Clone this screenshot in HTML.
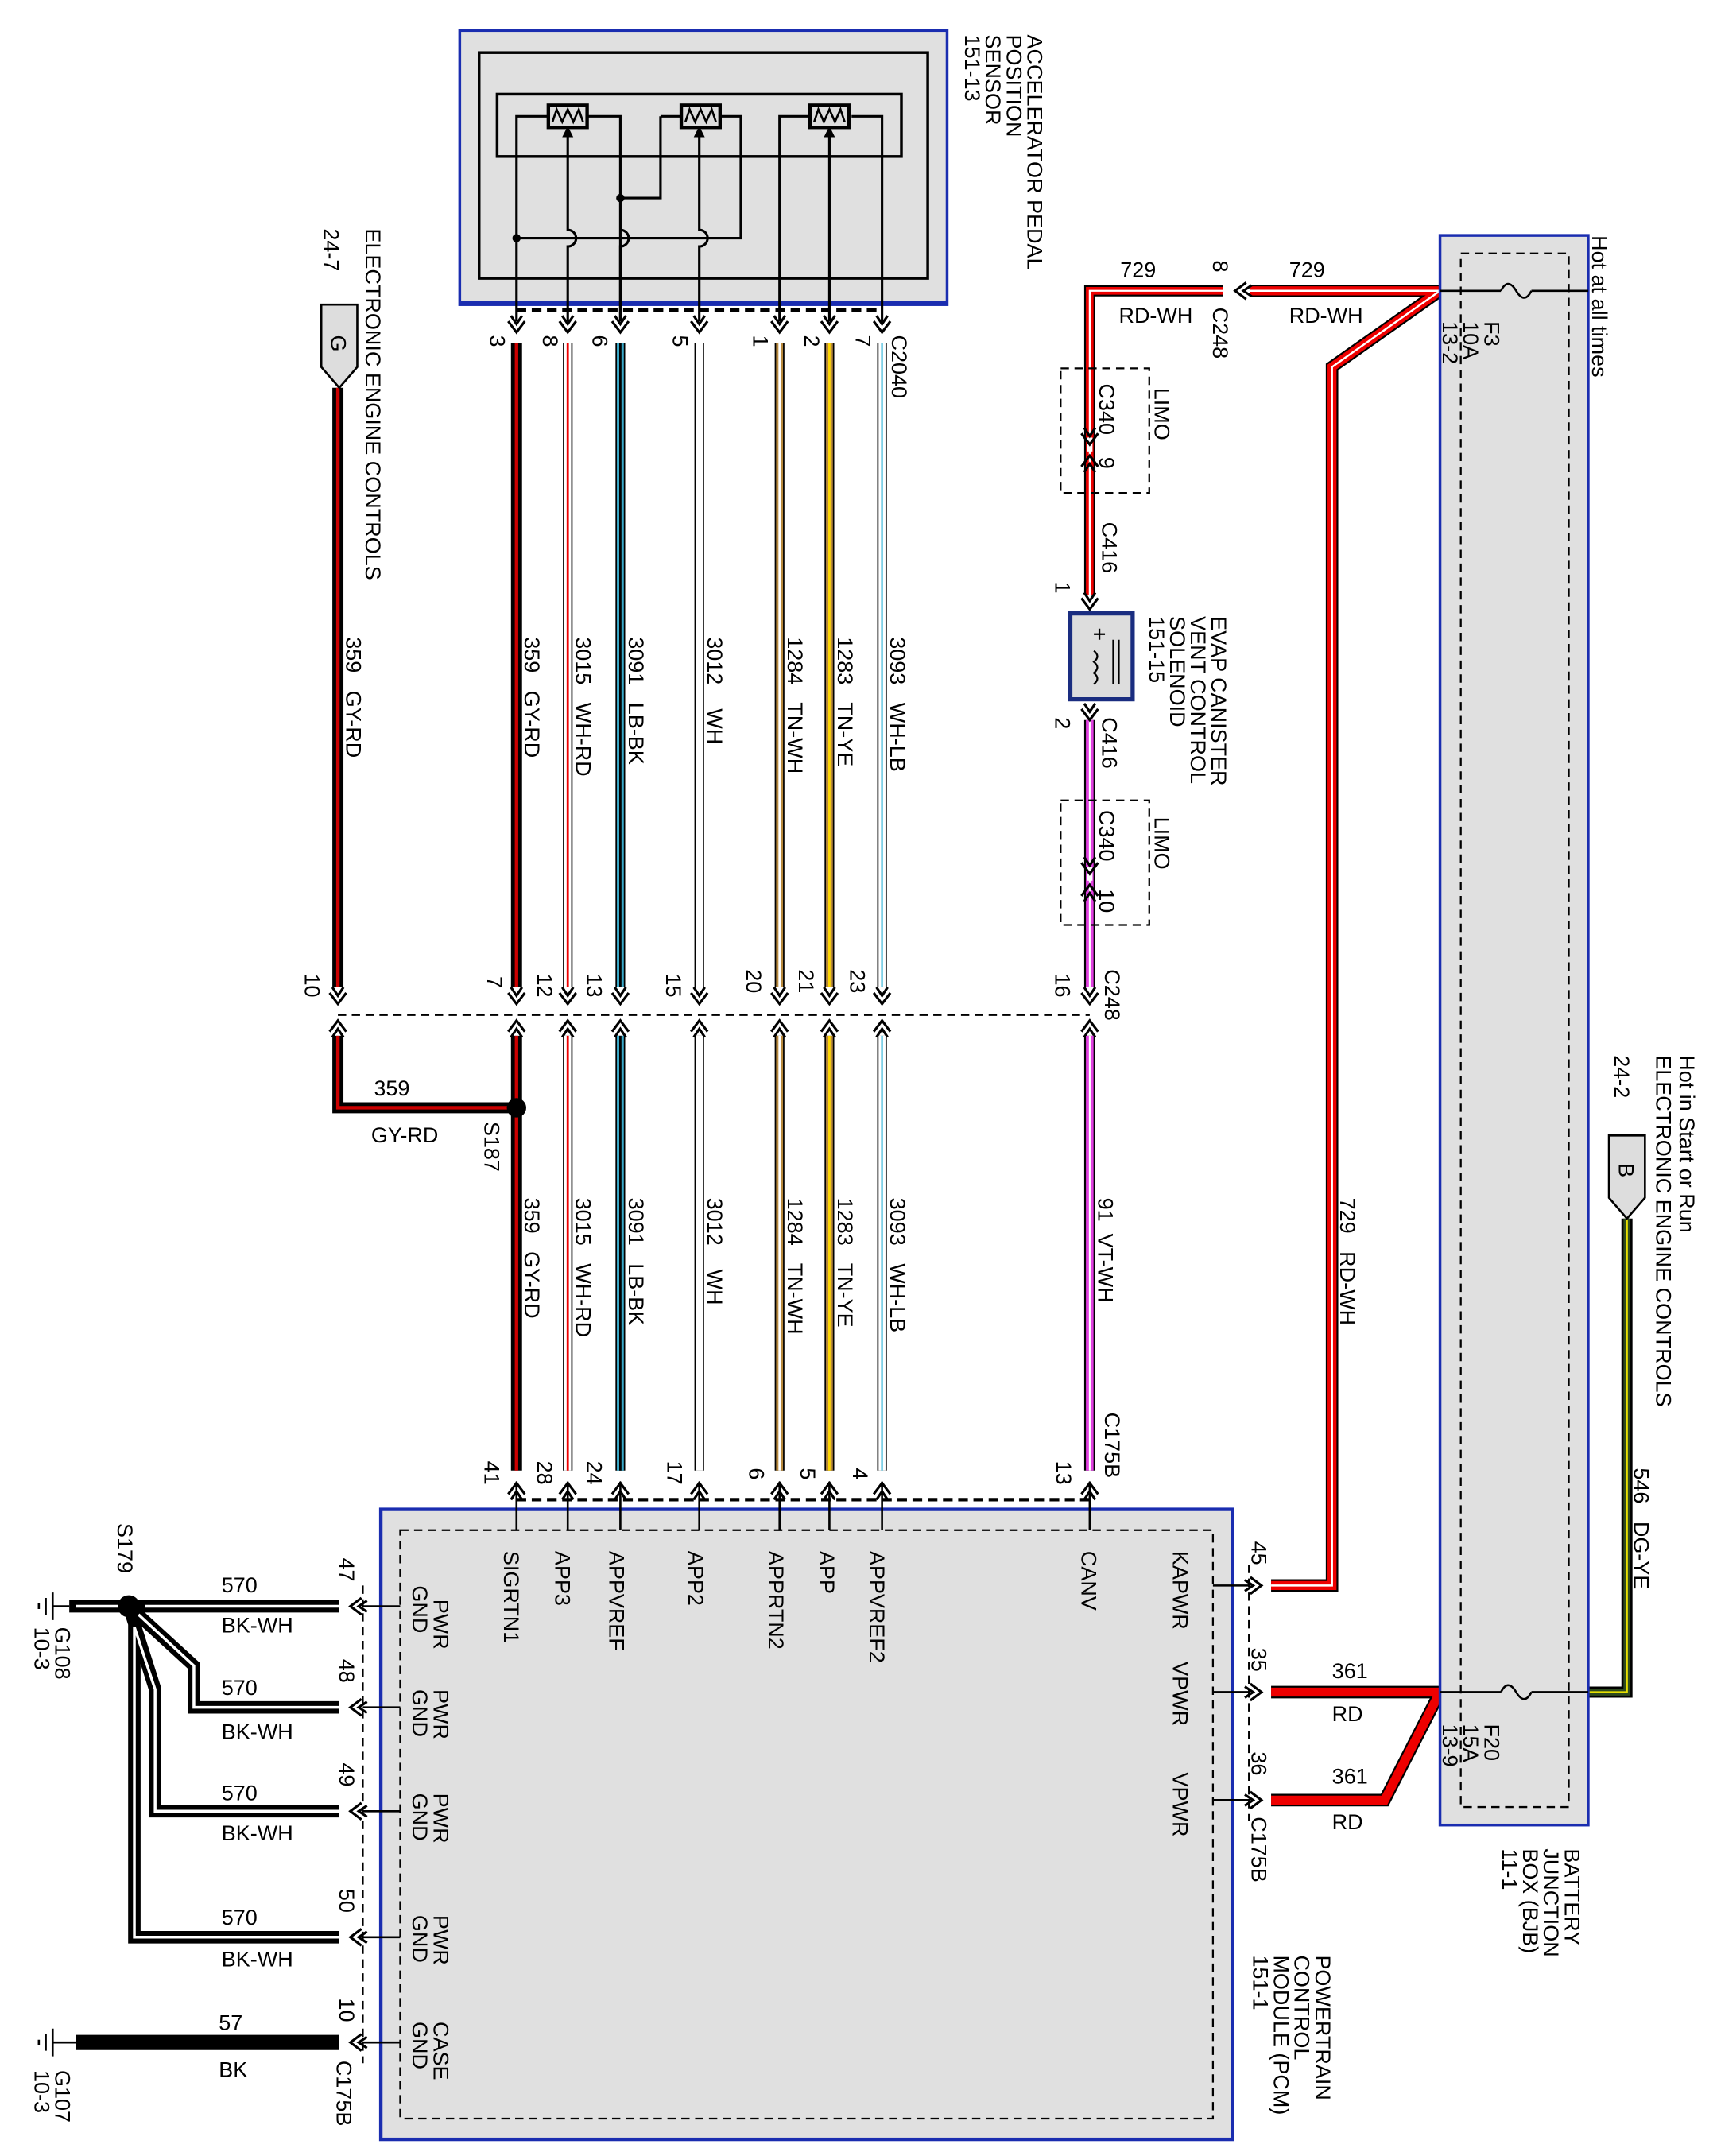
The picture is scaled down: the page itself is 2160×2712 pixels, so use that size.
<!DOCTYPE html>
<html><head><meta charset="utf-8"><style>
html,body{margin:0;padding:0;background:#fff}
svg{display:block}
text{font-family:"Liberation Sans",Arial,sans-serif;font-size:15.5px;fill:#000;white-space:pre}
</style></head><body>
<svg width="2160" height="2712" viewBox="0 0 1240 1557" xmlns="http://www.w3.org/2000/svg">
<defs>
<g id="ar"><path d="M-6,-5 L0,3 L6,-5 M-4,-9 L0,-3 L4,-9" fill="none" stroke="#000" stroke-width="1.8"/></g>
<g id="au"><path d="M-6,5 L0,-3 L6,5 M-4,9 L0,3 L4,9" fill="none" stroke="#000" stroke-width="1.8"/></g>
<g id="al"><path d="M5,-6 L-3,0 L5,6 M9,-4 L3,0 L9,4" fill="none" stroke="#000" stroke-width="1.8"/></g>
<g id="res"><rect x="-14" y="-8" width="28" height="16" fill="#ddd" stroke="#000" stroke-width="2.5"/><path d="M-11,4 L-8,-5 L-4,4 L0,-5 L4,4 L8,-5 L11,4" fill="none" stroke="#000" stroke-width="1.5"/></g>
</defs>

<rect x="332" y="22" width="352" height="198" fill="#e0e0e0" stroke="#1a2db0" stroke-width="2"/>
<line x1="332" y1="219" x2="684" y2="219" stroke="#1a2db0" stroke-width="3"/>
<rect x="346" y="38" width="324" height="163" fill="none" stroke="#000" stroke-width="2"/>
<rect x="359" y="68" width="292" height="45" fill="none" stroke="#000" stroke-width="2"/>
<g fill="none" stroke="#000" stroke-width="1.8">
<path d="M373,232 V84 H396 M424,84 H448 V232"/>
<path d="M477,84 H491 M521,84 H535 V172 H373"/>
<path d="M477,84 V143 H448"/>
<path d="M563,232 V84 H584 M615,84 H637 V232"/>
<path d="M410,232 V178 A6,6 0 0 0 410,166 V92"/>
<path d="M505,232 V178 A6,6 0 0 0 505,166 V92"/>
<path d="M599,232 V92"/>
</g>
<path d="M448,232 V178 A6,6 0 0 0 448,166" fill="none" stroke="#000" stroke-width="1.8"/>
<circle cx="448" cy="143" r="3" fill="#000"/><circle cx="373" cy="172" r="3" fill="#000"/>
<path d="M406,99 L410,91 L414,99 Z M501,99 L505,91 L509,99 Z M595,99 L599,91 L603,99 Z" fill="#000"/>
<use href="#res" x="410" y="84"/><use href="#res" x="506" y="84"/><use href="#res" x="599" y="84"/>
<line x1="373" y1="224" x2="637" y2="224" stroke="#000" stroke-width="2.5" stroke-dasharray="7,4"/>
<g><use href="#ar" x="373" y="237"/><use href="#ar" x="410" y="237"/><use href="#ar" x="448" y="237"/><use href="#ar" x="505" y="237"/><use href="#ar" x="563" y="237"/><use href="#ar" x="599" y="237"/><use href="#ar" x="637" y="237"/></g>

<line x1="244" y1="733" x2="787" y2="733" stroke="#000" stroke-width="1.3" stroke-dasharray="6,4"/>
<g><use href="#ar" x="244" y="722"/><use href="#au" x="244" y="740"/>
<use href="#ar" x="373" y="722"/><use href="#au" x="373" y="740"/>
<use href="#ar" x="410" y="722"/><use href="#au" x="410" y="740"/>
<use href="#ar" x="448" y="722"/><use href="#au" x="448" y="740"/>
<use href="#ar" x="505" y="722"/><use href="#au" x="505" y="740"/>
<use href="#ar" x="563" y="722"/><use href="#au" x="563" y="740"/>
<use href="#ar" x="599" y="722"/><use href="#au" x="599" y="740"/>
<use href="#ar" x="637" y="722"/><use href="#au" x="637" y="740"/>
<use href="#ar" x="787" y="722"/><use href="#au" x="787" y="740"/></g>

<g stroke-linecap="butt" fill="none">
<g stroke="#000" stroke-width="8"><path d="M373,248V713M373,748V1062M244,280V713M244,748V800H372"/></g>
<g stroke="#c00" stroke-width="2.5"><path d="M373,248V713M373,748V1062M244,280V713M244,748V800H372"/></g>
<g stroke="#000" stroke-width="7"><path d="M410,248V713M410,748V1062M448,248V713M448,748V1062M505,248V713M505,748V1062M563,248V713M563,748V1062M599,248V713M599,748V1062M637,248V713M637,748V1062"/></g>
<g stroke-width="5"><path d="M410,248V713M410,748V1062" stroke="#fff"/><path d="M448,248V713M448,748V1062" stroke="#39a9c9"/><path d="M505,248V713M505,748V1062" stroke="#fff"/><path d="M563,248V713M563,748V1062" stroke="#b98a3e"/><path d="M599,248V713M599,748V1062" stroke="#b98a3e"/><path d="M637,248V713M637,748V1062" stroke="#fff"/></g>
<g stroke-width="1.6"><path d="M410,248V713M410,748V1062" stroke="#e00"/><path d="M448,248V713M448,748V1062" stroke="#000"/><path d="M563,248V713M563,748V1062" stroke="#fff"/><path d="M599,248V713M599,748V1062" stroke="#ffd800"/><path d="M637,248V713M637,748V1062" stroke="#7fd0e6"/></g>
</g>
<circle cx="373" cy="800" r="7" fill="#000"/>
<path d="M232,220 H258 V265 L245,280 L232,265 Z" fill="#ddd" stroke="#000" stroke-width="1.5"/>
<text transform="translate(239,242) rotate(90)">G</text>

<g fill="none">
<path d="M883,210 H787 V430" stroke="#000" stroke-width="8"/>
<path d="M883,210 H787 V430" stroke="#e00" stroke-width="5.5"/>
<path d="M883,210 H787 V430" stroke="#fff" stroke-width="1.3"/>
<path d="M787,520 V713 M787,748 V1062" stroke="#000" stroke-width="8"/>
<path d="M787,520 V713 M787,748 V1062" stroke="#e040e0" stroke-width="5.5"/>
<path d="M787,520 V713 M787,748 V1062" stroke="#fff" stroke-width="1.2"/>
<path d="M1040,210 H903 M1040,210 L962,265 V1145 H918" stroke="#000" stroke-width="9"/>
<path d="M1040,210 H903 M1040,210 L962,265 V1145 H918" stroke="#e00" stroke-width="6.5"/>
<path d="M1040,210 H903 M1040,210 L962,265 V1145 H918" stroke="#fff" stroke-width="1.4"/>
<path d="M1040,1222 H918 M1040,1222 L1000,1300 H918" stroke="#000" stroke-width="9"/>
<path d="M1040,1222 H918 M1040,1222 L1000,1300 H918" stroke="#e00" stroke-width="6.5"/>
<path d="M1175,880 V1222 H1147" stroke="#000" stroke-width="8"/>
<path d="M1175,880 V1222 H1147" stroke="#2e4a1e" stroke-width="5"/>
<path d="M1175,880 V1222 H1147" stroke="#e8e000" stroke-width="1.3"/>
</g>
<use href="#al" x="895" y="210"/>
<g stroke="#fff" stroke-width="4"><line x1="787" y1="316" x2="787" y2="326"/><line x1="787" y1="626" x2="787" y2="636"/></g>
<use href="#ar" x="787" y="318"/><use href="#au" x="787" y="332"/>
<use href="#ar" x="787" y="628"/><use href="#au" x="787" y="642"/>
<rect x="766" y="266" width="64" height="90" fill="none" stroke="#000" stroke-width="1.3" stroke-dasharray="6,4"/>
<rect x="766" y="578" width="64" height="90" fill="none" stroke="#000" stroke-width="1.3" stroke-dasharray="6,4"/>
<use href="#ar" x="787" y="437"/><use href="#ar" x="787" y="517"/>
<rect x="773" y="443" width="45" height="62" fill="#ddd" stroke="#1a2d80" stroke-width="3"/>
<path d="M790,458 h8 m-4,-4 v8 M790,470 q5,4 0,8 q5,4 0,8 q5,4 0,8 M804,462 v32 M808,462 v32" fill="none" stroke="#000" stroke-width="1.3"/>

<rect x="1040" y="170" width="107" height="1148" fill="#e0e0e0" stroke="#1a2db0" stroke-width="2"/>
<rect x="1055" y="183" width="78" height="1122" fill="none" stroke="#000" stroke-width="1.3" stroke-dasharray="6,4"/>
<path d="M1040,210 H1084 M1106,210 H1147 M1084,210 q5,-10 11,0 q6,10 11,0" fill="none" stroke="#000" stroke-width="1.5"/>
<path d="M1040,1222 H1084 M1106,1222 H1147 M1084,1222 q5,-10 11,0 q6,10 11,0" fill="none" stroke="#000" stroke-width="1.5"/>
<path d="M1162,820 H1188 V865 L1175,880 L1162,865 Z" fill="#ddd" stroke="#000" stroke-width="1.5"/>
<text transform="translate(1169,840) rotate(90)">B</text>

<rect x="275" y="1090" width="615" height="455" fill="#e0e0e0" stroke="#1a2db0" stroke-width="2.5"/>
<rect x="289" y="1105" width="587" height="425" fill="none" stroke="#000" stroke-width="1.3" stroke-dasharray="6,4"/>
<line x1="373" y1="1083" x2="787" y2="1083" stroke="#000" stroke-width="2.5" stroke-dasharray="7,4"/>
<g stroke="#000" stroke-width="1.5"><path d="M373,1070V1105M410,1070V1105M448,1070V1105M505,1070V1105M563,1070V1105M599,1070V1105M637,1070V1105M787,1070V1105"/>
<path d="M876,1145H903M876,1222H903M876,1300H903M289,1160H262M289,1233H262M289,1308H262M289,1399H262M289,1475H262"/></g>
<line x1="902" y1="1130" x2="902" y2="1315" stroke="#000" stroke-width="1.3" stroke-dasharray="6,4"/>
<line x1="262" y1="1145" x2="262" y2="1490" stroke="#000" stroke-width="1.3" stroke-dasharray="6,4"/>
<g><use href="#au" x="373" y="1074"/><use href="#au" x="410" y="1074"/><use href="#au" x="448" y="1074"/><use href="#au" x="505" y="1074"/><use href="#au" x="563" y="1074"/><use href="#au" x="599" y="1074"/><use href="#au" x="637" y="1074"/><use href="#au" x="787" y="1074"/></g>
<g transform="scale(-1,1)"><use href="#al" x="-908" y="1145"/><use href="#al" x="-908" y="1222"/><use href="#al" x="-908" y="1300"/></g>
<use href="#al" x="256" y="1160"/><use href="#al" x="256" y="1233"/><use href="#al" x="256" y="1308"/><use href="#al" x="256" y="1399"/><use href="#al" x="256" y="1475"/>

<g fill="none" stroke-linejoin="miter">
<path d="M245,1160 H93 M245,1233 H140 V1203 L93,1160 M245,1308 H112 V1220 L93,1160 M245,1399 H97 V1160 M93,1160 H50" stroke="#000" stroke-width="9"/>
<path d="M245,1160 H105 M245,1233 H140 V1203 L100,1166 M245,1308 H112 V1220 L97,1175 M245,1399 H97 V1175 M85,1160 H55" stroke="#fff" stroke-width="2"/>
</g>
<circle cx="93" cy="1160" r="8" fill="#000"/>
<line x1="55" y1="1475" x2="245" y2="1475" stroke="#000" stroke-width="11"/>
<g stroke="#000" stroke-width="1.5"><path d="M50,1160H38M38,1150V1170M33,1154V1166M28,1158V1162"/><path d="M55,1475H38M38,1465V1485M33,1469V1481M28,1473V1477"/></g>

<g>
<text transform="translate(742,25) rotate(90)">ACCELERATOR PEDAL</text>
<text transform="translate(727,25) rotate(90)">POSITION</text>
<text transform="translate(712,25) rotate(90)">SENSOR</text>
<text transform="translate(697,25) rotate(90)">151-13</text>
<text transform="translate(264,165) rotate(90)">ELECTRONIC ENGINE CONTROLS</text>
<text transform="translate(234,165) rotate(90)">24-7</text>
<text transform="translate(354,242) rotate(90)">3</text>
<text transform="translate(392,242) rotate(90)">8</text>
<text transform="translate(428,242) rotate(90)">6</text>
<text transform="translate(486,242) rotate(90)">5</text>
<text transform="translate(544,242) rotate(90)">1</text>
<text transform="translate(581,242) rotate(90)">2</text>
<text transform="translate(618,242) rotate(90)">7</text>
<text transform="translate(644,242) rotate(90)">C2040</text>
<text transform="translate(250,460) rotate(90)">359   GY-RD</text>
<text transform="translate(379,460) rotate(90)">359   GY-RD</text>
<text transform="translate(416,460) rotate(90)">3015   WH-RD</text>
<text transform="translate(454,460) rotate(90)">3091   LB-BK</text>
<text transform="translate(511,460) rotate(90)">3012    WH</text>
<text transform="translate(569,460) rotate(90)">1284   TN-WH</text>
<text transform="translate(605,460) rotate(90)">1283   TN-YE</text>
<text transform="translate(643,460) rotate(90)">3093   WH-LB</text>
<text transform="translate(379,865) rotate(90)">359   GY-RD</text>
<text transform="translate(416,865) rotate(90)">3015   WH-RD</text>
<text transform="translate(454,865) rotate(90)">3091   LB-BK</text>
<text transform="translate(511,865) rotate(90)">3012    WH</text>
<text transform="translate(569,865) rotate(90)">1284   TN-WH</text>
<text transform="translate(605,865) rotate(90)">1283   TN-YE</text>
<text transform="translate(643,865) rotate(90)">3093   WH-LB</text>
<text transform="translate(793,865) rotate(90)">91  VT-WH</text>
<text transform="translate(968,865) rotate(90)">729   RD-WH</text>
<text transform="translate(1180,1060) rotate(90)">546   DG-YE</text>
<text transform="translate(220,703) rotate(90)">10</text>
<text transform="translate(352,705) rotate(90)">7</text>
<text transform="translate(388,703) rotate(90)">12</text>
<text transform="translate(424,703) rotate(90)">13</text>
<text transform="translate(481,703) rotate(90)">15</text>
<text transform="translate(539,700) rotate(90)">20</text>
<text transform="translate(577,700) rotate(90)">21</text>
<text transform="translate(614,700) rotate(90)">23</text>
<text transform="translate(762,703) rotate(90)">16</text>
<text transform="translate(798,700) rotate(90)">C248</text>
<text transform="translate(350,810) rotate(90)">S187</text>
<text transform="translate(350,1055) rotate(90)">41</text>
<text transform="translate(388,1055) rotate(90)">28</text>
<text transform="translate(424,1055) rotate(90)">24</text>
<text transform="translate(482,1055) rotate(90)">17</text>
<text transform="translate(541,1060) rotate(90)">6</text>
<text transform="translate(578,1060) rotate(90)">5</text>
<text transform="translate(616,1060) rotate(90)">4</text>
<text transform="translate(763,1055) rotate(90)">13</text>
<text transform="translate(798,1020) rotate(90)">C175B</text>
<text transform="translate(876,188) rotate(90)">8</text>
<text transform="translate(876,222) rotate(90)">C248</text>
<text transform="translate(834,280) rotate(90)">LIMO</text>
<text transform="translate(794,277) rotate(90)">C340</text>
<text transform="translate(794,330) rotate(90)">9</text>
<text transform="translate(796,377) rotate(90)">C416</text>
<text transform="translate(762,420) rotate(90)">1</text>
<text transform="translate(762,518) rotate(90)">2</text>
<text transform="translate(796,518) rotate(90)">C416</text>
<text transform="translate(834,590) rotate(90)">LIMO</text>
<text transform="translate(794,585) rotate(90)">C340</text>
<text transform="translate(794,642) rotate(90)">10</text>
<text transform="translate(875,445) rotate(90)">EVAP CANISTER</text>
<text transform="translate(860,445) rotate(90)">VENT CONTROL</text>
<text transform="translate(845,445) rotate(90)">SOLENOID</text>
<text transform="translate(830,445) rotate(90)">151-15</text>
<text transform="translate(1150,170) rotate(90)">Hot at all times</text>
<text transform="translate(1072,232) rotate(90)">F3</text>
<text transform="translate(1057,232) rotate(90)">10A</text>
<text transform="translate(1042,232) rotate(90)">13-2</text>
<text transform="translate(1072,1245) rotate(90)">F20</text>
<text transform="translate(1057,1245) rotate(90)">15A</text>
<text transform="translate(1042,1245) rotate(90)">13-9</text>
<text transform="translate(1130,1335) rotate(90)">BATTERY</text>
<text transform="translate(1115,1335) rotate(90)">JUNCTION</text>
<text transform="translate(1100,1335) rotate(90)">BOX (BJB)</text>
<text transform="translate(1085,1335) rotate(90)">11-1</text>
<text transform="translate(1213,762) rotate(90)">Hot in Start or Run</text>
<text transform="translate(1196,762) rotate(90)">ELECTRONIC ENGINE CONTROLS</text>
<text transform="translate(1166,762) rotate(90)">24-2</text>
<text transform="translate(950,1412) rotate(90)">POWERTRAIN</text>
<text transform="translate(935,1412) rotate(90)">CONTROL</text>
<text transform="translate(920,1412) rotate(90)">MODULE (PCM)</text>
<text transform="translate(905,1412) rotate(90)">151-1</text>
<text transform="translate(847,1120) rotate(90)">KAPWR</text>
<text transform="translate(847,1200) rotate(90)">VPWR</text>
<text transform="translate(847,1280) rotate(90)">VPWR</text>
<text transform="translate(781,1120) rotate(90)">CANV</text>
<text transform="translate(628,1120) rotate(90)">APPVREF2</text>
<text transform="translate(592,1120) rotate(90)">APP</text>
<text transform="translate(555,1120) rotate(90)">APPRTN2</text>
<text transform="translate(497,1120) rotate(90)">APP2</text>
<text transform="translate(440,1120) rotate(90)">APPVREF</text>
<text transform="translate(401,1120) rotate(90)">APP3</text>
<text transform="translate(364,1120) rotate(90)">SIGRTN1</text>
<text transform="translate(904,1113) rotate(90)">45</text>
<text transform="translate(904,1190) rotate(90)">35</text>
<text transform="translate(904,1265) rotate(90)">36</text>
<text transform="translate(904,1312) rotate(90)">C175B</text>
<text transform="translate(313,1155) rotate(90)">PWR</text><text transform="translate(298,1145) rotate(90)">GND</text>
<text transform="translate(313,1220) rotate(90)">PWR</text><text transform="translate(298,1220) rotate(90)">GND</text>
<text transform="translate(313,1295) rotate(90)">PWR</text><text transform="translate(298,1295) rotate(90)">GND</text>
<text transform="translate(313,1383) rotate(90)">PWR</text><text transform="translate(298,1383) rotate(90)">GND</text>
<text transform="translate(313,1460) rotate(90)">CASE</text><text transform="translate(298,1460) rotate(90)">GND</text>
<text transform="translate(245,1125) rotate(90)">47</text>
<text transform="translate(245,1198) rotate(90)">48</text>
<text transform="translate(245,1273) rotate(90)">49</text>
<text transform="translate(245,1364) rotate(90)">50</text>
<text transform="translate(245,1443) rotate(90)">10</text>
<text transform="translate(243,1488) rotate(90)">C175B</text>
<text transform="translate(85,1100) rotate(90)">S179</text>
<text transform="translate(40,1175) rotate(90)">G108</text>
<text transform="translate(25,1175) rotate(90)">10-3</text>
<text transform="translate(40,1495) rotate(90)">G107</text>
<text transform="translate(25,1495) rotate(90)">10-3</text>
</g>
<g>
<text x="809" y="200">729</text><text x="808" y="233">RD-WH</text>
<text x="931" y="200">729</text><text x="931" y="233">RD-WH</text>
<text x="270" y="791">359</text><text x="268" y="825">GY-RD</text>
<text x="962" y="1212">361</text><text x="962" y="1243">RD</text>
<text x="962" y="1288">361</text><text x="962" y="1321">RD</text>
<text x="160" y="1150">570</text><text x="160" y="1179">BK-WH</text>
<text x="160" y="1224">570</text><text x="160" y="1256">BK-WH</text>
<text x="160" y="1300">570</text><text x="160" y="1329">BK-WH</text>
<text x="160" y="1390">570</text><text x="160" y="1420">BK-WH</text>
<text x="158" y="1466">57</text><text x="158" y="1500">BK</text>
</g>
</svg>
</body></html>
